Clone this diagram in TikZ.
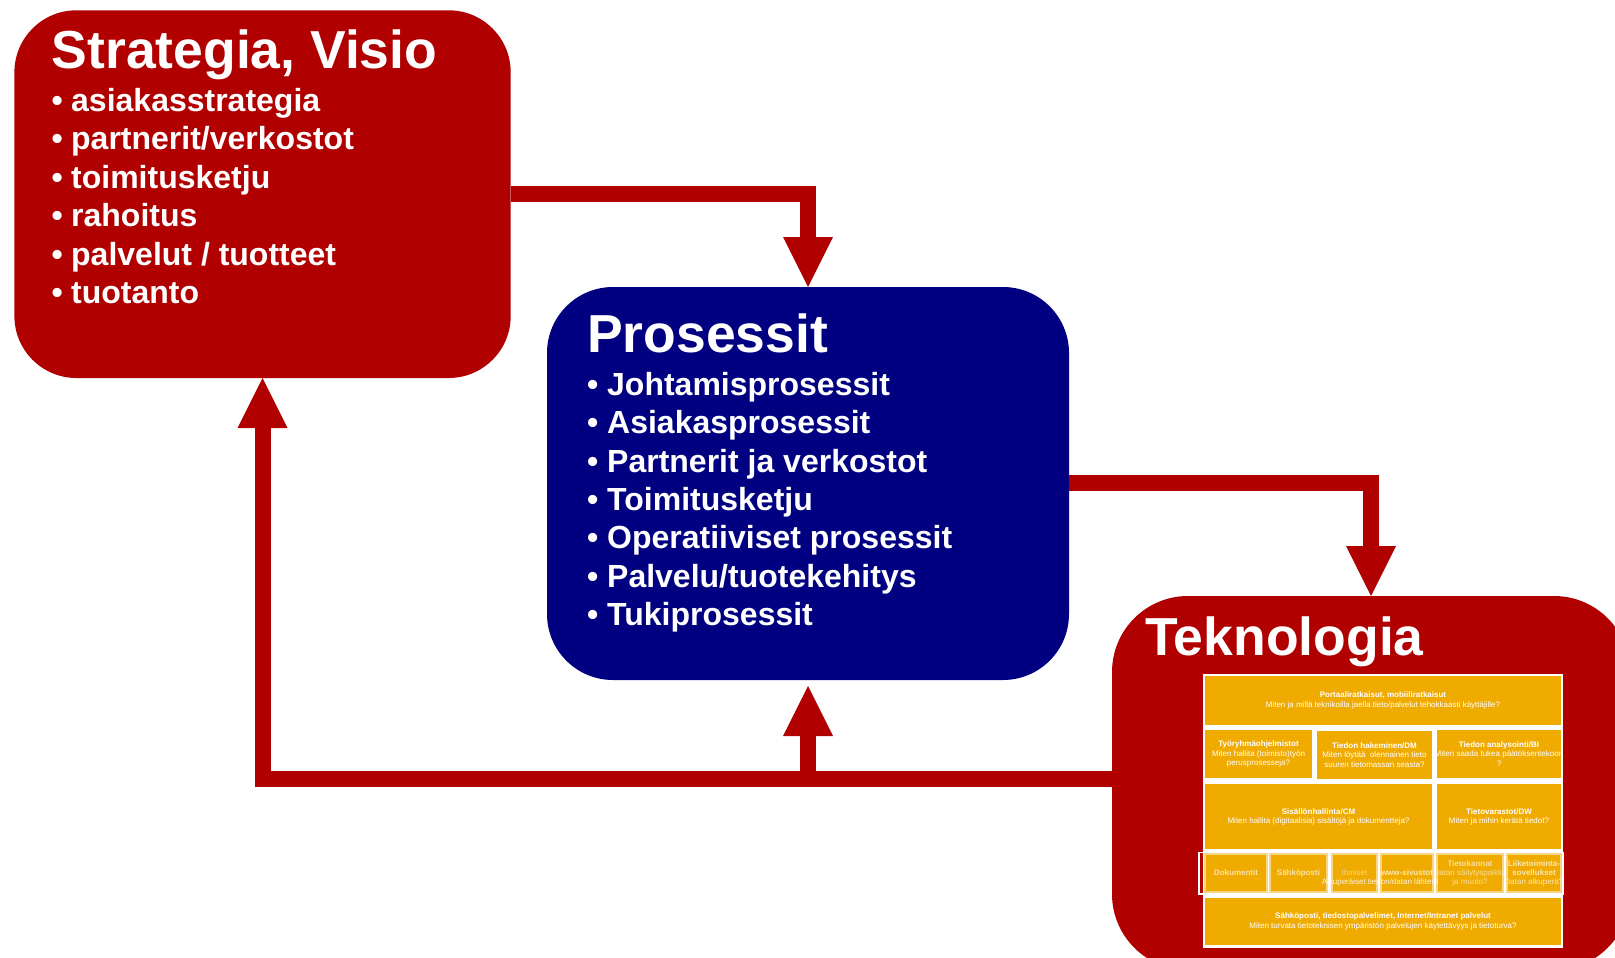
\documentclass[tikz,border=0pt]{standalone}
\usepackage{fontspec}
\setmainfont{Liberation Sans}
\usetikzlibrary{arrows.meta}

\definecolor{boxred}{RGB}{176,0,0}
\definecolor{boxnavy}{RGB}{0,0,128}
\definecolor{cellgold}{RGB}{240,171,0}
\definecolor{celledge}{RGB}{248,214,130}

\tikzset{
  panel/.style={rectangle, draw=none, inner sep=0pt, outer sep=0pt},
  heading/.style={anchor=base west, inner sep=0pt, text=white,
    font=\bfseries\fontsize{53.5}{60}\selectfont},
  item/.style={anchor=base west, inner sep=0pt, text=white,
    font=\bfseries\fontsize{32}{38}\selectfont},
  flow/.style={draw=boxred, line width=16pt, line join=miter,
    -{Triangle[width=50pt,length=50pt,line width=0pt]}},
  cellbox/.style={fill=cellgold},
  celltext/.style={inner sep=0pt, text=white, align=center,
    font=\fontsize{8}{9.6}\selectfont},
}

% yellow cell with centred, clipped text
\newcommand\tcell[7][]{%
  \path[cellbox] (#3,#4) rectangle (#5,#6);
  \begin{scope}
    \clip (#3,#4) rectangle (#5,#6);
    \node[celltext,#1] (#2) at ({(#3+#5)/2},{(#4+#6)/2}) {#7};
  \end{scope}}

\begin{document}
\begin{tikzpicture}[x=1pt,y=-1pt]
\useasboundingbox (0,0) rectangle (1615,958);

% --- Strategia, Visio ---
\node[panel, fill=boxred, rounded corners=62pt,
      minimum width=496.3pt, minimum height=367.7pt] (strat) at (262.55,194.15) {};
\node[heading] (stratT) at (51.5,68.5) {Strategia, Visio};
\foreach \lbl [count=\i] in {asiakasstrategia,partnerit/verkostot,toimitusketju,rahoitus,palvelut / tuotteet,tuotanto}
  \node[item] (s\i) at (51.5,{111+38.55*(\i-1)}) {\makebox[19.5pt][l]{•}\lbl};

% --- Prosessit ---
\node[panel, fill=boxnavy, rounded corners=66pt,
      minimum width=522pt, minimum height=393pt] (proc) at (808,483.5) {};
\node[heading] (procT) at (587,352.5) {Prosessit};
\foreach \lbl [count=\i] in {Johtamisprosessit,Asiakasprosessit,Partnerit ja verkostot,Toimitusketju,Operatiiviset prosessit,Palvelu/tuotekehitys,Tukiprosessit}
  \node[item] (p\i) at (587,{395.5+38.3*(\i-1)}) {\makebox[20pt][l]{•}\lbl};

% --- Teknologia ---
\begin{scope}
  \clip (0,0) rectangle (1615,958);
  \node[panel, fill=boxred, rounded corners=76pt,
        minimum width=518pt, minimum height=374pt] (tech) at (1371,783) {};
\end{scope}
\node[heading] (techT) at (1145,655) {Teknologia};

% technology grid
\fill[white] (1203,674) rectangle (1563,947.5);
\tcell[font=\fontsize{8}{10.6}\selectfont]{c1}{1205}{676}{1561}{725}
  {\textbf{Portaaliratkaisut, mobiiliratkaisut}\\Miten ja millä teknikoilla jaella tieto/palvelut tehokkaasti käyttäjille?}
\tcell{c2a}{1205}{730}{1312}{778}
  {\textbf{Työryhmäohjelmistot}\\Miten hallita (toimisto)työn\\perusprosesseja?}
\tcell{c2b}{1317}{731}{1432}{779}
  {\textbf{Tiedon hakeminen/DM}\\Miten löytää\ \ olennainen tieto\\suuren tietomassan seasta?}
\tcell{c2c}{1437}{730}{1561}{778}
  {\textbf{Tiedon analysointi/BI}\\Miten saada tukea päätöksentekoon\\?}
\tcell[font=\fontsize{8}{9}\selectfont]{c3a}{1205}{784}{1432}{849}
  {\textbf{Sisällönhallinta/CM}\\Miten hallita (digitaalisia) sisältöjä ja dokumentteja?}
\tcell[font=\fontsize{8}{9}\selectfont]{c3b}{1437}{784}{1561}{849}
  {\textbf{Tietovarastot/DW}\\Miten ja mihin kerätä tiedot?}

% source row
\draw[white, line width=1.5pt] (1198.75,852.5) rectangle (1562.75,894);
\begin{scope}[cellbox/.style={fill=cellgold, draw=celledge, line width=1.5pt},
              celltext/.append style={font=\fontsize{8}{9}\selectfont}]
  \tcell[text opacity=0.65]{c4a}{1205}{854}{1267}{892}{\textbf{Dokumentit}}
  \tcell[text opacity=0.65]{c4b}{1270}{854}{1327}{892}{\textbf{Sähköposti}}
  \tcell[text opacity=0.5]{c4c}{1332}{854}{1377}{892}{Ihmiset}
  \tcell[text opacity=0.7]{c4d}{1381}{854}{1433}{892}{\textbf{www-sivustot}}
  \tcell[text opacity=0.6]{c4e}{1437}{854}{1503}{892}{\textbf{Tietokannat}\\Datan säilytyspaikka\\ja muoto?}
  \tcell[text opacity=0.7]{c4f}{1507}{854}{1561}{892}{\textbf{Liiketoiminta-}\\\textbf{sovellukset}\\Datan alkuperä?}
\end{scope}
\node[anchor=base, inner sep=0pt, text=white, text opacity=0.85,
      font=\fontsize{8}{9}\selectfont] (src) at (1380,884) {Alkuperäiset tiedon/datan lähteet};

\tcell[font=\fontsize{8}{10.6}\selectfont]{c5}{1205}{898}{1561}{945}
  {\textbf{Sähköposti, tiedostopalvelimet, Internet/Intranet palvelut}\\Miten turvata tietoteknisen ympäristön palvelujen käytettävyys ja tietoturva?}

% --- connectors ---
\draw[flow] (strat.east |- 0,194) -| (proc.north);
\draw[flow] (proc.east |- 0,483) -| (tech.north);
\draw[flow] (tech.west |- 0,779) -| (strat.south);
\draw[flow, shorten >=6pt] (proc.south |- 0,779) -- (proc.south);
\end{tikzpicture}
\end{document}
